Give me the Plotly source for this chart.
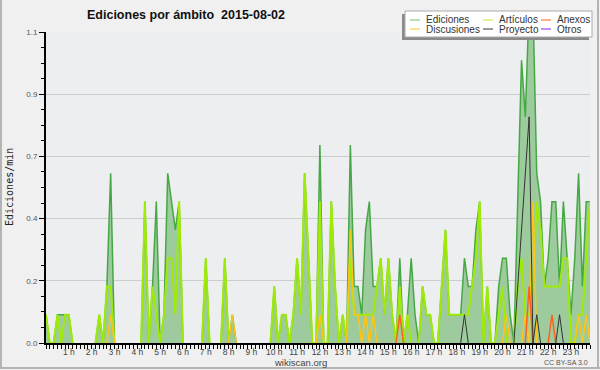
import plotly.graph_objects as go

# ---- data: 144 ten-minute bins (edits per minute) ----
bin_hours = [i / 6 for i in range(144)]

ediciones = [
    0.1, 0, 0, 0.1, 0.1, 0.1, 0.1, 0, 0, 0, 0, 0,
    0, 0, 0.1, 0, 0.2, 0.6, 0, 0, 0, 0, 0, 0,
    0, 0, 0.5, 0, 0.2, 0.5, 0, 0.1, 0.6, 0.5, 0.4, 0.5,
    0, 0, 0, 0, 0, 0, 0.3, 0, 0, 0, 0, 0.3,
    0, 0.1, 0, 0, 0, 0, 0, 0, 0, 0, 0, 0,
    0.2, 0, 0.1, 0.1, 0, 0.1, 0.3, 0.1, 0.6, 0.3, 0, 0,
    0.7, 0, 0, 0.5, 0.2, 0, 0.1, 0, 0.7, 0.2, 0.2, 0.1,
    0.4, 0.5, 0.2, 0.2, 0.3, 0.1, 0.3, 0.1, 0, 0.3, 0, 0.1,
    0.3, 0.1, 0, 0.2, 0.1, 0.1, 0, 0, 0.2, 0.4, 0.1, 0.1,
    0.1, 0.1, 0.3, 0.2, 0.2, 0.4, 0.5, 0, 0.2, 0, 0, 0.2,
    0.3, 0.3, 0.1, 0, 0.5, 1.0, 0.8, 1.2, 1.2, 0.6, 0.5, 0.2,
    0.3, 0.5, 0.5, 0.2, 0.5, 0.3, 0.1, 0.3, 0.6, 0.2, 0.5, 0.5,
]
articulos = [
    0.1, 0, 0, 0.1, 0, 0.1, 0.1, 0, 0, 0, 0, 0,
    0, 0, 0.1, 0, 0.2, 0.2, 0, 0, 0, 0, 0, 0,
    0, 0, 0.5, 0, 0.2, 0.1, 0, 0.1, 0.3, 0.3, 0.1, 0.5,
    0, 0, 0, 0, 0, 0, 0.3, 0, 0, 0, 0, 0.3,
    0, 0, 0, 0, 0, 0, 0, 0, 0, 0, 0, 0,
    0.2, 0, 0.1, 0.1, 0, 0.1, 0.3, 0.1, 0.6, 0.3, 0, 0,
    0.5, 0, 0, 0.5, 0.2, 0, 0.1, 0, 0.3, 0.1, 0.1, 0.1,
    0.1, 0.1, 0.1, 0.2, 0.3, 0.1, 0.3, 0.1, 0, 0.2, 0, 0.1,
    0, 0, 0, 0.2, 0.1, 0.1, 0, 0, 0.2, 0.4, 0.1, 0.1,
    0.1, 0.1, 0.1, 0.1, 0.2, 0.3, 0.5, 0, 0.2, 0, 0, 0.1,
    0.2, 0, 0, 0, 0.2, 0.3, 0.1, 0.1, 0.2, 0.5, 0.4, 0.2,
    0.2, 0.2, 0.2, 0.2, 0.3, 0.3, 0, 0, 0.1, 0.1, 0.3, 0.5,
]
discusiones = [
    0, 0, 0, 0, 0, 0, 0, 0, 0, 0, 0, 0,
    0, 0, 0, 0, 0, 0.1, 0, 0, 0, 0, 0, 0,
    0, 0, 0, 0, 0, 0, 0, 0, 0, 0, 0, 0,
    0, 0, 0, 0, 0, 0, 0, 0, 0, 0, 0, 0,
    0, 0.1, 0, 0, 0, 0, 0, 0, 0, 0, 0, 0,
    0, 0, 0, 0, 0, 0, 0, 0, 0, 0, 0, 0,
    0.1, 0, 0, 0, 0, 0, 0, 0, 0.4, 0.1, 0.1, 0,
    0.1, 0, 0.1, 0, 0, 0, 0, 0, 0, 0, 0, 0,
    0, 0, 0, 0, 0, 0, 0, 0, 0, 0, 0, 0,
    0, 0, 0, 0, 0, 0, 0, 0, 0, 0, 0, 0,
    0, 0.1, 0, 0, 0, 0, 0.1, 0, 0.5, 0, 0, 0,
    0, 0, 0, 0, 0, 0, 0, 0, 0.1, 0, 0.1, 0,
]
anexos = [
    0, 0, 0, 0, 0, 0, 0, 0, 0, 0, 0, 0,
    0, 0, 0, 0, 0, 0, 0, 0, 0, 0, 0, 0,
    0, 0, 0, 0, 0, 0, 0, 0, 0, 0, 0, 0,
    0, 0, 0, 0, 0, 0, 0, 0, 0, 0, 0, 0,
    0, 0, 0, 0, 0, 0, 0, 0, 0, 0, 0, 0,
    0, 0, 0, 0, 0, 0, 0, 0, 0, 0, 0, 0,
    0, 0, 0, 0, 0, 0, 0, 0, 0, 0, 0, 0,
    0, 0, 0, 0, 0, 0, 0, 0, 0, 0.1, 0, 0,
    0, 0, 0, 0, 0, 0, 0, 0, 0, 0, 0, 0,
    0, 0, 0, 0, 0, 0, 0, 0, 0, 0, 0, 0,
    0, 0, 0, 0, 0, 0, 0, 0.2, 0, 0, 0, 0,
    0, 0.1, 0, 0, 0, 0, 0, 0, 0, 0, 0, 0,
]
proyecto = [
    0, 0, 0, 0, 0, 0, 0, 0, 0, 0, 0, 0,
    0, 0, 0, 0, 0, 0, 0, 0, 0, 0, 0, 0,
    0, 0, 0, 0, 0, 0, 0, 0, 0, 0, 0, 0,
    0, 0, 0, 0, 0, 0, 0, 0, 0, 0, 0, 0,
    0, 0, 0, 0, 0, 0, 0, 0, 0, 0, 0, 0,
    0, 0, 0, 0, 0, 0, 0, 0, 0, 0, 0, 0,
    0, 0, 0, 0, 0, 0, 0, 0, 0, 0, 0, 0,
    0, 0, 0, 0, 0, 0, 0, 0, 0, 0, 0, 0,
    0, 0, 0, 0, 0, 0, 0, 0, 0, 0, 0, 0,
    0, 0, 0.1, 0, 0, 0, 0, 0, 0, 0, 0, 0,
    0, 0, 0, 0, 0.2, 0.4, 0.6, 0.8, 0, 0.1, 0, 0,
    0, 0, 0, 0.1, 0, 0, 0, 0, 0, 0, 0, 0,
]
otros = [
    0, 0, 0, 0, 0, 0, 0, 0, 0, 0, 0, 0,
    0, 0, 0, 0, 0, 0, 0, 0, 0, 0, 0, 0,
    0, 0, 0, 0, 0, 0, 0, 0, 0, 0, 0, 0,
    0, 0, 0, 0, 0, 0, 0, 0, 0, 0, 0, 0,
    0, 0, 0, 0, 0, 0, 0, 0, 0, 0, 0, 0,
    0, 0, 0, 0, 0, 0, 0, 0, 0, 0, 0, 0,
    0, 0, 0, 0, 0, 0, 0, 0, 0, 0, 0, 0,
    0, 0, 0, 0, 0, 0, 0, 0, 0, 0, 0, 0,
    0, 0, 0, 0, 0, 0, 0, 0, 0, 0, 0, 0,
    0, 0, 0, 0, 0, 0, 0, 0, 0, 0, 0, 0,
    0, 0, 0, 0, 0, 0, 0, 0, 0, 0, 0, 0,
    0, 0, 0, 0, 0, 0, 0, 0, 0, 0, 0, 0,
]

hour_ticks = list(range(1, 24))
hour_labels = [f"{h} h" for h in hour_ticks]
y_ticks = [0, 0.22, 0.44, 0.66, 0.88, 1.1]
y_labels = ["0.0", "0.2", "0.4", "0.7", "0.9", "1.1"]

series = [
    ("Ediciones", ediciones, "#45a845", "#7fd07f"),
    ("Artículos", articulos, "#a0ea08", "#c8ee50"),
    ("Anexos", anexos, "#ff5f1f", "#ff7a3c"),
    ("Discusiones", discusiones, "#ffc414", "#ffd040"),
    ("Proyecto", proyecto, "#333333", "#555555"),
    ("Otros", otros, "#9933ff", "#9940ff"),
]


def trim(vals):
    """Hide interior runs of zeros so no line is drawn along the baseline."""
    out = []
    n = len(vals)
    for i, v in enumerate(vals):
        left = vals[i - 1] if i > 0 else 0
        right = vals[i + 1] if i < n - 1 else 0
        out.append(None if (v == 0 and left == 0 and right == 0) else v)
    return out


W, H = 600, 370
L, R, T, B = 46, 10, 32, 27
PW, PH = W - L - R, H - T - B


def px_x(px):
    return (px - L) / PW


def px_y(py):
    return (H - B - py) / PH


fig = go.Figure()

# Ediciones filled area
fig.add_trace(go.Scatter(
    x=bin_hours, y=trim(ediciones), mode="lines", fill="tozeroy",
    fillcolor="#9ecb9e", line=dict(color="#45a845", width=1.5),
    connectgaps=False, showlegend=False, name="Ediciones"))

draw_order = ["Artículos", "Discusiones", "Anexos", "Proyecto", "Otros"]
widths = {"Artículos": 2, "Discusiones": 1.5, "Anexos": 1.5, "Proyecto": 1, "Otros": 1}
lookup = {s[0]: s for s in series}
for nm in draw_order:
    _, vals, col, _ = lookup[nm]
    fig.add_trace(go.Scatter(
        x=bin_hours, y=trim(vals), mode="lines",
        line=dict(color=col, width=widths[nm]),
        connectgaps=False, showlegend=False, name=nm))

shapes = []
annotations = []

# outer frame (left, right, bottom)
frame_col = "#b4b4b4"
shapes.append(dict(type="line", xref="paper", yref="paper", x0=px_x(1), x1=px_x(1),
                   y0=px_y(0), y1=px_y(369), line=dict(color=frame_col, width=2)))
shapes.append(dict(type="line", xref="paper", yref="paper", x0=px_x(598), x1=px_x(598),
                   y0=px_y(0), y1=px_y(369), line=dict(color=frame_col, width=2)))
shapes.append(dict(type="line", xref="paper", yref="paper", x0=px_x(0), x1=px_x(600),
                   y0=px_y(368), y1=px_y(368), line=dict(color=frame_col, width=2)))

# legend box with shadow
shapes.append(dict(type="rect", xref="paper", yref="paper",
                   x0=px_x(402), x1=px_x(589), y0=px_y(40), y1=px_y(14),
                   fillcolor="#8a8a8a", line=dict(width=0), layer="above"))
shapes.append(dict(type="rect", xref="paper", yref="paper",
                   x0=px_x(405), x1=px_x(592), y0=px_y(37), y1=px_y(11),
                   fillcolor="#ffffff", line=dict(color="#aaaaaa", width=1), layer="above"))

legend_pos = {
    "Ediciones": (410, 20), "Artículos": (483, 20), "Anexos": (541, 20),
    "Discusiones": (410, 29), "Proyecto": (483, 29), "Otros": (541, 29),
}
for nm, vals, col, lcol in series:
    lx, ly = legend_pos[nm]
    shapes.append(dict(type="line", xref="paper", yref="paper",
                       x0=px_x(lx), x1=px_x(lx + 10), y0=px_y(ly), y1=px_y(ly),
                       line=dict(color=lcol, width=1.2), layer="above"))
    annotations.append(dict(text=nm, xref="paper", yref="paper",
                            x=px_x(lx + 14), y=px_y(ly), xanchor="left", yanchor="middle",
                            showarrow=False,
                            font=dict(family="Liberation Sans", size=10, color="#333333")))

# title
annotations.append(dict(text="<b>Ediciones por ámbito\u00a0\u00a02015-08-02</b>",
                        xref="paper", yref="paper", x=px_x(85), y=px_y(15),
                        xanchor="left", yanchor="middle", showarrow=False,
                        font=dict(family="Liberation Sans", size=12.5, color="#111111")))
# y-axis title
annotations.append(dict(text="Ediciones/min", xref="paper", yref="paper",
                        x=px_x(9), y=px_y(187), textangle=-90,
                        xanchor="center", yanchor="middle", showarrow=False,
                        font=dict(family="DejaVu Sans Mono", size=10, color="#222222")))
# footer texts
annotations.append(dict(text="wikiscan.org", xref="paper", yref="paper",
                        x=px_x(300), y=px_y(362), xanchor="center", yanchor="middle",
                        showarrow=False,
                        font=dict(family="Liberation Sans", size=9.5, color="#444444")))
annotations.append(dict(text="CC BY-SA 3.0", xref="paper", yref="paper",
                        x=px_x(590), y=px_y(362), xanchor="right", yanchor="middle",
                        showarrow=False,
                        font=dict(family="Liberation Sans", size=7, color="#555555")))

fig.update_layout(
    width=W, height=H,
    margin=dict(l=L, r=R, t=T, b=B, pad=0),
    paper_bgcolor="#f0f0f0",
    plot_bgcolor="#edeef0",
    showlegend=False,
    shapes=shapes,
    annotations=annotations,
    xaxis=dict(
        range=[0, 143 / 6], tickmode="array", tickvals=hour_ticks, ticktext=hour_labels,
        showgrid=False, zeroline=False, showline=True, linecolor="black", linewidth=2,
        ticks="outside", ticklen=4, tickwidth=1, tickcolor="black",
        ticklabelstandoff=-4,
        tickfont=dict(family="Liberation Sans", size=8.5, color="#444444"),
        minor=dict(tickmode="linear", tick0=0, dtick=1 / 6, ticks="outside",
                   ticklen=4, tickwidth=1, tickcolor="black", showgrid=False),
        fixedrange=True,
    ),
    yaxis=dict(
        range=[0, 1.1], tickmode="array", tickvals=y_ticks, ticktext=y_labels,
        showgrid=True, gridcolor="#cccccc", gridwidth=1, zeroline=False,
        showline=True, linecolor="black", linewidth=2,
        ticks="outside", ticklen=5, tickwidth=1, tickcolor="black",
        tickfont=dict(family="Liberation Sans", size=8, color="#555555"),
        minor=dict(tickmode="linear", tick0=0, dtick=0.055, ticks="outside",
                   ticklen=3, tickwidth=1, tickcolor="black", showgrid=False),
        fixedrange=True,
    ),
)

fig.write_html(
    "out.html",
    config={"displayModeBar": False},
    post_script="document.body.style.margin='0px';document.body.style.overflow='hidden';",
)
